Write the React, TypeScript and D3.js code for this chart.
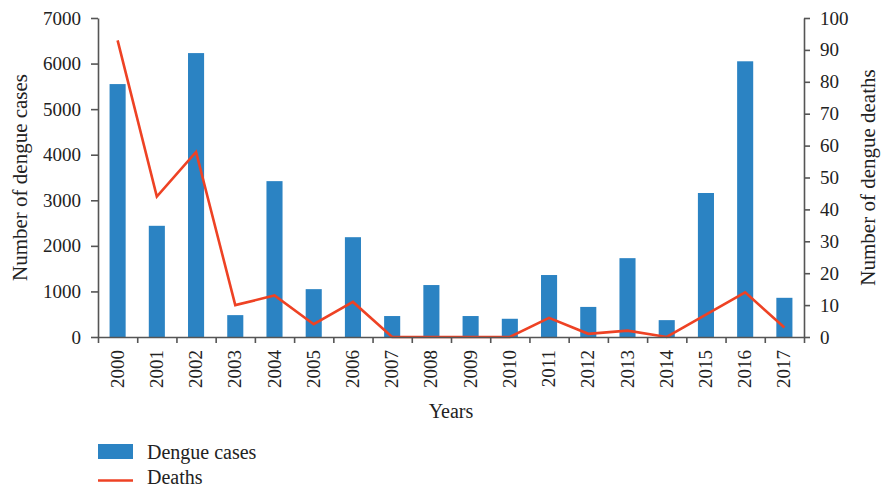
import React, { useEffect, useRef } from "react";
import * as d3 from "d3";

// dengue cases (bars, left axis) and deaths (line, right axis) per year
const years = ["2000", "2001", "2002", "2003", "2004", "2005", "2006", "2007", "2008",
  "2009", "2010", "2011", "2012", "2013", "2014", "2015", "2016", "2017"];
const cases = [5550, 2440, 6230, 480, 3420, 1050, 2190, 460, 1140,
  460, 400, 1360, 660, 1730, 370, 3160, 6050, 860];
const deaths = [93, 44, 58, 10, 13, 4, 11, 0, 0, 0, 0, 6, 1, 2, 0, 7, 14, 3];
const caseTicks = [0, 1000, 2000, 3000, 4000, 5000, 6000, 7000];
const deathTicks = [0, 10, 20, 30, 40, 50, 60, 70, 80, 90, 100];

const W = 881;
const H = 489;
const FONT = "'Liberation Serif', 'Times New Roman', serif";
const BLUE = "#2b83c3";
const RED = "#ee4224";
const AXIS = "#555";

export default function App() {
  const ref = useRef<SVGSVGElement>(null);

  useEffect(() => {
    const svg = d3.select(ref.current);
    svg.selectAll("*").remove();

    const left = 98, right = 804, top = 18, bottom = 337;

    const x = d3.scaleBand().domain(years).range([left, right]).paddingInner(0.59).paddingOuter(0.295);
    const xb = d3.scaleLinear().domain([0, years.length]).range([left, right]);
    const yL = d3.scaleLinear().domain([0, 7000]).range([bottom, top]);
    const yR = d3.scaleLinear().domain([0, 100]).range([bottom, top]);

    // bars
    svg.append("g")
      .selectAll("rect")
      .data(cases)
      .join("rect")
      .attr("x", (d, i) => x(years[i]) as number)
      .attr("width", x.bandwidth())
      .attr("y", d => yL(d))
      .attr("height", d => bottom - yL(d))
      .attr("fill", BLUE);

    // deaths line
    const line = d3.line<number>()
      .x((d, i) => (x(years[i]) as number) + x.bandwidth() / 2)
      .y(d => yR(d));
    svg.append("path")
      .attr("d", line(deaths))
      .attr("fill", "none")
      .attr("stroke", RED)
      .attr("stroke-width", 2.6)
      .attr("stroke-linejoin", "miter");

    const styleAxis = (g: any) => {
      g.selectAll(".domain").attr("stroke", AXIS).attr("stroke-width", 1.6);
      g.selectAll(".tick line").attr("stroke", AXIS).attr("stroke-width", 1.6);
      g.selectAll("text").attr("font-family", FONT).attr("font-size", 19).attr("fill", "#222");
    };

    svg.append("g")
      .attr("transform", `translate(${left},0)`)
      .call(d3.axisLeft(yL).tickValues(caseTicks).tickSize(7).tickSizeOuter(0).tickPadding(10).tickFormat(d3.format("d")))
      .call(styleAxis);

    svg.append("g")
      .attr("transform", `translate(${right},0)`)
      .call(d3.axisRight(yR).tickValues(deathTicks).tickSize(6).tickSizeOuter(0).tickPadding(10))
      .call(styleAxis);

    const xAxis = svg.append("g")
      .attr("transform", `translate(0,${bottom})`)
      .call(d3.axisBottom(xb).tickValues(d3.range(years.length + 1)).tickSize(6).tickSizeOuter(0).tickFormat(() => ""))
      .call(styleAxis);
    xAxis.selectAll(".domain").attr("d", `M${left},0.5H${right}`);

    // rotated year labels
    svg.append("g")
      .selectAll("text")
      .data(years)
      .join("text")
      .attr("transform", d => `translate(${(x(d) as number) + x.bandwidth() / 2 + 6},350) rotate(-90)`)
      .attr("text-anchor", "end")
      .attr("font-family", FONT)
      .attr("font-size", 19)
      .attr("fill", "#222")
      .text(d => d);

    // axis titles
    svg.append("text")
      .attr("transform", `translate(27,${(top + bottom) / 2}) rotate(-90)`)
      .attr("text-anchor", "middle")
      .attr("font-family", FONT).attr("font-size", 21).attr("fill", "#222")
      .text("Number of dengue cases");
    svg.append("text")
      .attr("transform", `translate(875,${(top + bottom) / 2}) rotate(-90)`)
      .attr("text-anchor", "middle")
      .attr("font-family", FONT).attr("font-size", 21).attr("fill", "#222")
      .text("Number of dengue deaths");
    svg.append("text")
      .attr("x", 451).attr("y", 418)
      .attr("text-anchor", "middle")
      .attr("font-family", FONT).attr("font-size", 20).attr("fill", "#222")
      .text("Years");

    // legend
    const lg = svg.append("g");
    lg.append("rect").attr("x", 98).attr("y", 444).attr("width", 35).attr("height", 15).attr("fill", BLUE);
    lg.append("text").attr("x", 147).attr("y", 459)
      .attr("font-family", FONT).attr("font-size", 20).attr("fill", "#222").text("Dengue cases");
    lg.append("line").attr("x1", 98).attr("x2", 133).attr("y1", 480.5).attr("y2", 480.5)
      .attr("stroke", RED).attr("stroke-width", 2.6);
    lg.append("text").attr("x", 147).attr("y", 484)
      .attr("font-family", FONT).attr("font-size", 20).attr("fill", "#222").text("Deaths");
  }, []);

  return (
    <svg ref={ref} width={W} height={H}
      style={{ position: "absolute", left: 0, top: 0, background: "#fff" }} />
  );
}
